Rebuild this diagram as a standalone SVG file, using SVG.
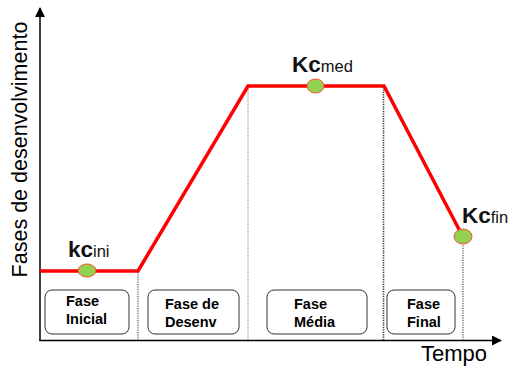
<svg xmlns="http://www.w3.org/2000/svg" width="512" height="366" viewBox="0 0 512 366">
<defs>
<style>
.ax{stroke:#000;stroke-width:1.5;fill:none}
.dot{stroke:#333;stroke-width:1;stroke-dasharray:1.2,1.2;fill:none}
.curve{stroke:#FF0000;stroke-width:3.5;fill:none;stroke-linejoin:miter}
.pt{fill:#92D050;stroke:#FF4D2E;stroke-width:1}
.box{fill:#fff;stroke:#333;stroke-width:1}
.bt{font-family:"Liberation Sans",Arial,sans-serif;font-weight:bold;font-size:14.5px;fill:#000}
.lab{font-family:"Liberation Sans",Arial,sans-serif;fill:#000}
.kc{font-family:"Liberation Sans",Arial,sans-serif;font-weight:bold;font-size:22.5px;fill:#111}
</style>
<marker id="ah" viewBox="0 0 10 10" refX="9" refY="5" markerWidth="10" markerHeight="10" markerUnits="userSpaceOnUse" orient="auto">
<path d="M0,0 L10,5 L0,10 z" fill="#000"/>
</marker>
</defs>
<rect width="512" height="366" fill="#fff"/>
<g id="connectors">
<line class="ax" x1="40" y1="341" x2="40" y2="8" marker-end="url(#ah)"/>
<line class="ax" x1="39.3" y1="340.5" x2="501" y2="340.5" marker-end="url(#ah)"/>
<line class="dot" x1="138" y1="272" x2="138" y2="340"/>
<line class="dot" x1="248" y1="87" x2="248" y2="340" style="stroke:#777"/>
<line class="dot" x1="383.5" y1="87" x2="383.5" y2="340" style="stroke-width:1.6"/>
<line class="dot" x1="463" y1="243" x2="463" y2="340"/>
<polyline class="curve" points="40,271 138,271 248,86 384,86 463,237"/>
</g>
<g id="kc-ini">
<ellipse class="pt" cx="87" cy="270.5" rx="9" ry="6.5"/>
<text class="kc" x="68" y="257">kc<tspan font-size="16.5" font-weight="normal">ini</tspan></text>
</g>
<g id="kc-med">
<ellipse class="pt" cx="315.5" cy="86" rx="8.5" ry="7"/>
<text class="kc" x="292" y="72">Kc<tspan font-size="16.5" font-weight="normal">med</tspan></text>
</g>
<g id="kc-fin">
<ellipse class="pt" cx="463" cy="236.5" rx="9" ry="7.5"/>
<text class="kc" x="462" y="223">Kc<tspan font-size="16.5" font-weight="normal">fin</tspan></text>
</g>
<g id="fase-inicial">
<rect class="box" x="45" y="290" width="84" height="44" rx="7"/>
<text class="bt" x="66" y="306">Fase</text>
<text class="bt" x="66" y="324">Inicial</text>
</g>
<g id="fase-desenv">
<rect class="box" x="148" y="290" width="91" height="44" rx="7"/>
<text class="bt" x="165" y="309">Fase de</text>
<text class="bt" x="165" y="327">Desenv</text>
</g>
<g id="fase-media">
<rect class="box" x="267" y="290" width="100" height="44" rx="7"/>
<text class="bt" x="294" y="309">Fase</text>
<text class="bt" x="294" y="327">Média</text>
</g>
<g id="fase-final">
<rect class="box" x="387" y="290" width="68" height="44" rx="7"/>
<text class="bt" x="407" y="309">Fase</text>
<text class="bt" x="407" y="327">Final</text>
</g>
<g id="axis-labels">
<text class="lab" font-size="21.5" text-anchor="middle" transform="translate(27,149.5) rotate(-90)">Fases de desenvolvimento</text>
<text class="lab" x="421" y="361" font-size="22">Tempo</text>
</g>
</svg>
